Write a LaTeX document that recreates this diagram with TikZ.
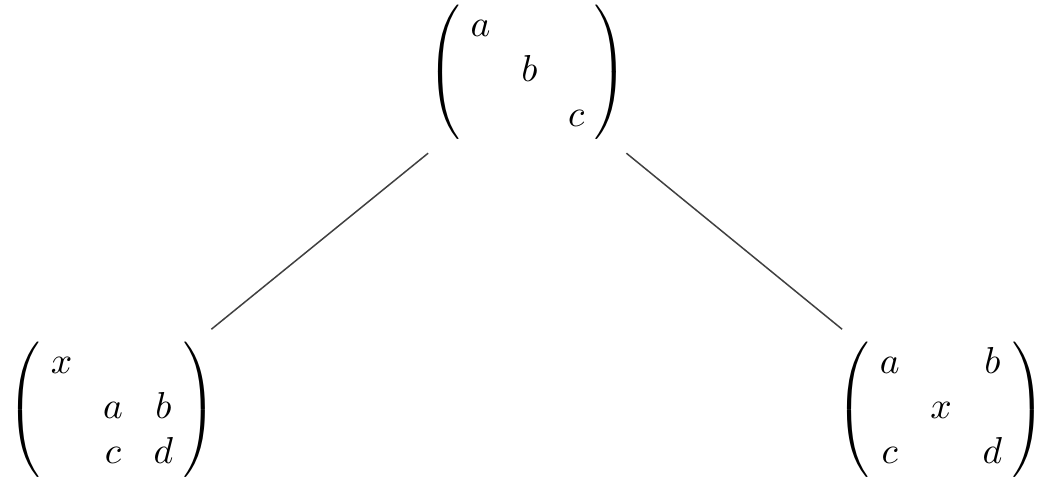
\documentclass[tikz,border=0pt]{standalone}
\usepackage{amsmath}
\setlength{\arraycolsep}{4.1pt}
\newcommand{\pmat}[1]{\left(\mkern5mu\begin{matrix}#1\end{matrix}\mkern5mu\right)}
\begin{document}
\begin{tikzpicture}[x=0.2667pt,y=0.2667pt]
  \useasboundingbox (0,0) rectangle (1046,480);
  % the three matrices
  \node (top) at (527.5,407.5)
    {$\pmat{a & & \\ & b & \\ & & c}$};
  \node (left) at (112,70)
    {$\pmat{x & & \\ & a & b \\ & c & d}$};
  \node (right) at (941,70)
    {$\pmat{a & & b \\ & x & \\ c & & d}$};
  % branches
  \draw[black!75] (top) -- (left);
  \draw[black!75] (top) -- (right);
\end{tikzpicture}
\end{document}
